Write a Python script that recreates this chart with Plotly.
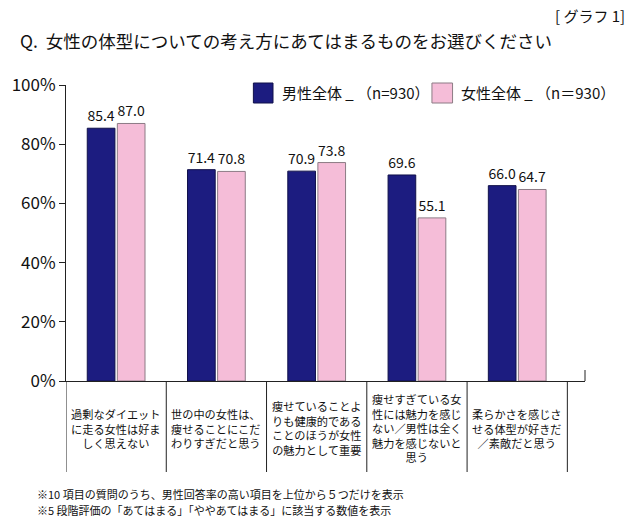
import plotly.graph_objects as go

categories = [
    "過剰なダイエット<br>に走る女性は好ま<br>しく思えない",
    "世の中の女性は、<br>痩せることにこだ<br>わりすぎだと思う",
    "痩せていることよ<br>りも健康的である<br>ことのほうが女性<br>の魅力として重要",
    "痩せすぎている女<br>性には魅力を感じ<br>ない／男性は全く<br>魅力を感じないと<br>思う",
    "柔らかさを感じさ<br>せる体型が好きだ<br>／素敵だと思う",
]
male_values = [85.4, 71.4, 70.9, 69.6, 66.0]
female_values = [87.0, 70.8, 73.8, 55.1, 64.7]
series_names = ["男性全体 _ （n=930）", "女性全体 _ （n＝930）"]
y_ticks = [0, 20, 40, 60, 80, 100]
y_tick_labels = ["0%", "20%", "40%", "60%", "80%", "100%"]
title_text = "Q.  女性の体型についての考え方にあてはまるものをお選びください"
tag_text = "[ グラフ 1]"
notes = [
    "※10 項目の質問のうち、男性回答率の高い項目を上位から５つだけを表示",
    "※5 段階評価の「あてはまる」「ややあてはまる」に該当する数値を表示",
]

W, H = 640, 526
L, R, T, B = 56, 585, 85, 381
FONT = "Noto Sans CJK JP"
NAVY = "#1c1c80"
PINK = "#f5bdd8"


def px_x(px):
    return (px - L) / (R - L)


def px_y(py):
    return (B - py) / (B - T)


xs = list(range(len(categories)))

fig = go.Figure()
fig.add_trace(go.Bar(
    x=xs, y=male_values, name=series_names[0],
    marker=dict(color=NAVY, line=dict(color="#10104a", width=1)),
    text=[f"{v:.1f}" for v in male_values], textposition="outside",
    textfont=dict(family=FONT, size=14, color="#111111"),
    constraintext="none", cliponaxis=False, showlegend=False,
))
fig.add_trace(go.Bar(
    x=xs, y=female_values, name=series_names[1],
    marker=dict(color=PINK, line=dict(color="#8c7b85", width=1)),
    text=[f"{v:.1f}" for v in female_values], textposition="outside",
    textfont=dict(family=FONT, size=14, color="#111111"),
    constraintext="none", cliponaxis=False, showlegend=False,
))

shapes = []
for k in range(len(categories) + 1):
    shapes.append(dict(type="line", xref="x", yref="paper",
                       x0=k - 0.5, x1=k - 0.5, y0=0, y1=px_y(472),
                       line=dict(color="#222222", width=1)))
shapes.append(dict(type="line", xref="paper", yref="paper",
                   x0=1, x1=1, y0=0, y1=px_y(370),
                   line=dict(color="#222222", width=1)))
shapes.append(dict(type="rect", xref="paper", yref="paper",
                   x0=px_x(247), x1=px_x(267), y0=px_y(103), y1=px_y(83),
                   fillcolor=NAVY, line=dict(color="#10104a", width=1)))
shapes.append(dict(type="rect", xref="paper", yref="paper",
                   x0=px_x(429), x1=px_x(450), y0=px_y(103), y1=px_y(83),
                   fillcolor=PINK, line=dict(color="#8c7b85", width=1)))

annotations = []
for i, c in enumerate(categories):
    annotations.append(dict(x=i, y=px_y(428), xref="x", yref="paper",
                            text=c, showarrow=False, xanchor="center", yanchor="middle",
                            align="center", font=dict(family=FONT, size=11.2, color="#111111")))
annotations.append(dict(x=px_x(274), y=px_y(93), xref="paper", yref="paper",
                        text=series_names[0], showarrow=False, xanchor="left", yanchor="middle",
                        font=dict(family=FONT, size=15, color="#111111")))
annotations.append(dict(x=px_x(457), y=px_y(93), xref="paper", yref="paper",
                        text=series_names[1], showarrow=False, xanchor="left", yanchor="middle",
                        font=dict(family=FONT, size=15, color="#111111")))
annotations.append(dict(x=px_x(7), y=px_y(40), xref="paper", yref="paper",
                        text=title_text, showarrow=False, xanchor="left", yanchor="middle",
                        font=dict(family=FONT, size=17.5, color="#111111")))
annotations.append(dict(x=px_x(628), y=px_y(15), xref="paper", yref="paper",
                        text=tag_text, showarrow=False, xanchor="right", yanchor="middle",
                        font=dict(family=FONT, size=15, color="#111111")))
for n, yy in zip(notes, [494, 510]):
    annotations.append(dict(x=px_x(24), y=px_y(yy), xref="paper", yref="paper",
                            text=n, showarrow=False, xanchor="left", yanchor="middle",
                            font=dict(family=FONT, size=11, color="#111111")))

fig.update_layout(
    width=W, height=H,
    margin=dict(l=L, r=W - R, t=T, b=H - B, pad=0),
    paper_bgcolor="white", plot_bgcolor="white",
    barmode="group", bargap=0.40, bargroupgap=0.08,
    showlegend=False,
    shapes=shapes, annotations=annotations,
    font=dict(family=FONT, color="#111111"),
)
fig.update_xaxes(range=[-0.5, 4.676], showticklabels=False, ticks="",
                 showline=True, linecolor="#222222", linewidth=1,
                 showgrid=False, zeroline=False, fixedrange=True)
fig.update_yaxes(range=[0, 100], tickvals=y_ticks, ticktext=y_tick_labels,
                 ticks="outside", ticklen=6, tickcolor="#222222",
                 showline=True, linecolor="#222222", linewidth=1,
                 showgrid=False, zeroline=False,
                 tickfont=dict(family=FONT, size=17, color="#111111"),
                 fixedrange=True)

fig.write_html("out.html", config={"displayModeBar": False})
